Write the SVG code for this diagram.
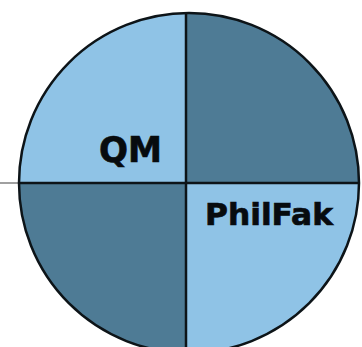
<svg xmlns="http://www.w3.org/2000/svg" width="362" height="347" viewBox="0 0 362 347">
  <style>
    .light { fill: #8fc3e6; }
    .dark { fill: #4e7b95; }
    .div { stroke: #0d1418; stroke-width: 2.5; fill: none; }
    .lbl { font-family: "DejaVu Sans", Verdana, sans-serif; font-weight: bold; fill: #070b0e; stroke: #070b0e; stroke-width: 0.7; }
  </style>
  <defs>
    <clipPath id="disc"><circle cx="189" cy="183" r="170"/></clipPath>
  </defs>
  <rect width="362" height="347" fill="#ffffff"/>
  <line x1="0" y1="183" x2="20" y2="183" stroke="#a0a0a0" stroke-width="2"/>
  <g id="quadrants" clip-path="url(#disc)">
    <rect id="q-tl" class="light" x="0" y="0" width="186" height="183"/>
    <rect id="q-tr" class="dark" x="186" y="0" width="176" height="183"/>
    <rect id="q-bl" class="dark" x="0" y="183" width="186" height="164"/>
    <rect id="q-br" class="light" x="186" y="183" width="176" height="164"/>
  </g>
  <g id="dividers" clip-path="url(#disc)">
    <line class="div" x1="186" y1="0" x2="186" y2="347"/>
    <line class="div" x1="0" y1="183" x2="362" y2="183"/>
  </g>
  <circle cx="189" cy="183" r="170" fill="none" stroke="#0d1418" stroke-width="2.5"/>
  <g id="label-qm">
    <text class="lbl" x="99" y="162" font-size="36" textLength="63" lengthAdjust="spacingAndGlyphs">QM</text>
  </g>
  <g id="label-philfak">
    <text class="lbl" x="205" y="225" font-size="30.5" textLength="128" lengthAdjust="spacingAndGlyphs">PhilFak</text>
  </g>
</svg>
